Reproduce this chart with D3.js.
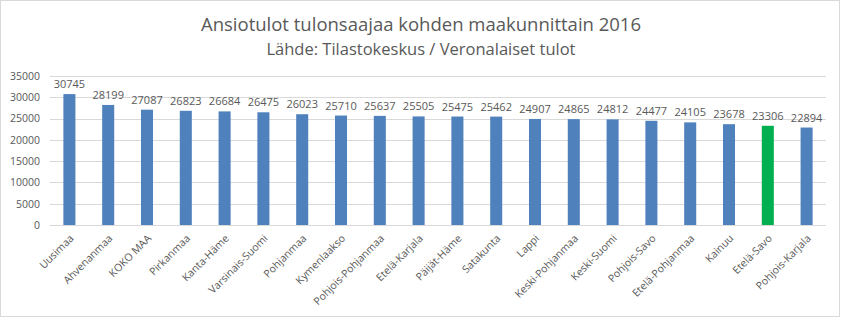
<!DOCTYPE html>
<html>
<head>
<meta charset="utf-8">
<script src="https://cdn.jsdelivr.net/npm/d3@7"></script>
<style>
  body { margin: 0; background: #fff; }
  svg { display: block; font-family: "Open Sans", sans-serif; }
</style>
</head>
<body>
<svg id="chart" width="842" height="319"></svg>
<script>
"use strict";

// DATA
const regions = [
	"Uusimaa", "Ahvenanmaa", "KOKO MAA", "Pirkanmaa", "Kanta-Häme",
	"Varsinais-Suomi", "Pohjanmaa", "Kymenlaakso", "Pohjois-Pohjanmaa", "Etelä-Karjala",
	"Päijät-Häme", "Satakunta", "Lappi", "Keski-Pohjanmaa", "Keski-Suomi",
	"Pohjois-Savo", "Etelä-Pohjanmaa", "Kainuu", "Etelä-Savo", "Pohjois-Karjala",
];
const incomes = [
	30745, 28199, 27087, 26823, 26684, 26475, 26023, 25710, 25637, 25505,
	25475, 25462, 24907, 24865, 24812, 24477, 24105, 23678, 23306, 22894,
];
const highlighted = ["Etelä-Savo"];
const yTicks = [0, 5000, 10000, 15000, 20000, 25000, 30000, 35000];

const titleText = "Ansiotulot tulonsaajaa kohden maakunnittain 2016";
const subtitleText = "Lähde: Tilastokeskus / Veronalaiset tulot";

const barColor = "#4f81bd";
const highlightColor = "#00b050";
const textColor = "#595959";

const svg = d3.select("#chart");
const W = 842, H = 319;
const margin = { top: 76, right: 16, bottom: 94, left: 50 };

// border
svg.append("rect")
	.attr("x", 0.5).attr("y", 0.5)
	.attr("width", W - 3).attr("height", H - 3)
	.attr("fill", "#fff")
	.attr("stroke", "#d9d9d9");

svg.append("text")
	.attr("x", 421).attr("y", 31)
	.attr("text-anchor", "middle")
	.attr("fill", textColor)
	.style("font-size", "18.5px")
	.text(titleText);

svg.append("text")
	.attr("x", 421).attr("y", 55)
	.attr("text-anchor", "middle")
	.attr("fill", textColor)
	.style("font-size", "16.5px")
	.text(subtitleText);

const x = d3.scaleBand()
	.domain(regions)
	.range([margin.left, W - margin.right])
	.paddingInner(0.69)
	.paddingOuter(0.345);

const y = d3.scaleLinear()
	.domain([0, 35000])
	.range([H - margin.bottom, margin.top]);

// gridlines
svg.append("g")
	.selectAll("line")
	.data(yTicks)
	.join("line")
	.attr("x1", margin.left)
	.attr("x2", W - margin.right)
	.attr("y1", (d) => Math.round(y(d)) + 0.5)
	.attr("y2", (d) => Math.round(y(d)) + 0.5)
	.attr("stroke", "#d9d9d9");

// y axis labels
const yAxis = svg.append("g")
	.attr("transform", `translate(${margin.left - 10},0)`)
	.call(d3.axisLeft(y).tickValues(yTicks).tickFormat(d3.format("d")).tickSize(0).tickPadding(0));
yAxis.select(".domain").remove();
yAxis.selectAll("text")
	.attr("fill", textColor)
	.style("font-size", "10.5px")
	.style("font-family", "'Open Sans', sans-serif");

// bars
svg.append("g")
	.selectAll("rect")
	.data(regions)
	.join("rect")
	.attr("x", (d) => x(d))
	.attr("width", x.bandwidth())
	.attr("y", (d, i) => y(incomes[i]))
	.attr("height", (d, i) => y(0) - y(incomes[i]))
	.attr("fill", (d) => highlighted.includes(d) ? highlightColor : barColor);

// value labels
svg.append("g")
	.selectAll("text")
	.data(regions)
	.join("text")
	.attr("x", (d) => x(d) + x.bandwidth() / 2)
	.attr("y", (d, i) => y(incomes[i]) - 6)
	.attr("text-anchor", "middle")
	.attr("fill", textColor)
	.style("font-size", "11px")
	.text((d, i) => incomes[i]);

// x axis labels
const xAxis = svg.append("g")
	.attr("transform", `translate(0,${y(0)})`)
	.call(d3.axisBottom(x).tickSize(0).tickPadding(0));
xAxis.select(".domain").remove();
xAxis.selectAll("text")
	.attr("fill", textColor)
	.style("font-size", "10.5px")
	.style("font-family", "'Open Sans', sans-serif")
	.attr("text-anchor", "end")
	.attr("dy", null)
	.attr("transform", "translate(5,14) rotate(-45)");
</script>
</body>
</html>
